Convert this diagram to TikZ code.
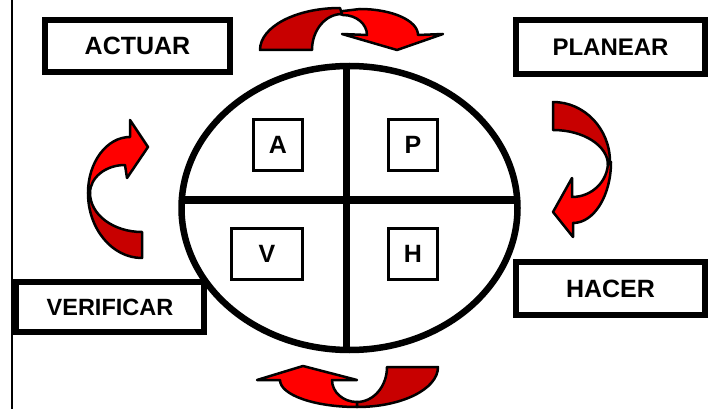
\documentclass[tikz,border=0pt]{standalone}
\usepackage{fontspec}
\setmainfont{Liberation Sans}
\definecolor{darkred}{HTML}{C80000}
\definecolor{litered}{HTML}{FF0000}
\begin{document}
\begin{tikzpicture}[x=1pt,y=-1pt,
  bigbox/.style={draw,line width=6pt,inner sep=0pt,font=\bfseries\fontsize{25}{25}\selectfont},
  smallbox/.style={draw,line width=3pt,inner sep=0pt,minimum height=51pt,font=\bfseries\fontsize{25}{25}\selectfont},
  frontband/.style={fill=litered,draw=black,line width=2.5pt,line join=round},
  backband/.style={fill=darkred,draw=black,line width=2.5pt,line join=round}]
\useasboundingbox (0,0) rectangle (713,409);
% left rule
\draw[line width=2pt] (11.5,0) -- (11.5,409);
% ellipse with cross
\draw[line width=6.5pt] (349.5,208) ellipse [x radius=168, y radius=142];
\draw[line width=7.5pt] (182,200) -- (517,200);
\draw[line width=7pt] (346,66) -- (346,350);
% outer boxes
\node[bigbox,minimum width=185pt,minimum height=52pt] (actuar) at (137.5,46) {ACTUAR};
\node[bigbox,minimum width=189pt,minimum height=54pt,font=\bfseries\fontsize{24}{24}\selectfont] (planear) at (610.5,47) {PLANEAR};
\node[bigbox,minimum width=189pt,minimum height=53pt] (hacer) at (610.5,288.5) {HACER};
\node[bigbox,minimum width=188pt,minimum height=50pt,font=\bfseries\fontsize{23.5}{24}\selectfont] (verificar) at (110,307) {VERIFICAR};
% inner boxes
\node[smallbox,minimum width=49pt] (a) at (278,145) {A};
\node[smallbox,minimum width=49pt] (p) at (413,145) {P};
\node[smallbox,minimum width=71pt] (v) at (267,254) {V};
\node[smallbox,minimum width=49pt] (h) at (413,254) {H};
% top arrow
\draw[frontband] (335,12) -- (343,15) arc[start angle=270,end angle=360,x radius=24,y radius=20]
  -- (342,34) -- (397,50) -- (443,34) -- (418,35)
  arc[start angle=0,end angle=-90,x radius=58,y radius=26] -- cycle;
\draw[backband] (260,50) arc[start angle=180,end angle=270,x radius=80,y radius=42]
  -- (342,14) arc[start angle=270,end angle=180,x radius=30,y radius=36] -- cycle;
% right arrow
\draw[frontband] (608,162) arc[start angle=0,end angle=90,x radius=36,y radius=35]
  -- (572,178) -- (553,212) -- (573,237) -- (573,223)
  arc[start angle=90,end angle=0,x radius=38,y radius=61] -- cycle;
\draw[backband] (553,102) arc[start angle=270,end angle=360,x radius=57,y radius=60]
  -- (608,165) arc[start angle=0,end angle=-90,x radius=55,y radius=35] -- cycle;
% left arrow
\draw[frontband] (88,193) arc[start angle=180,end angle=270,x radius=42,y radius=56]
  -- (130,120) -- (148,147) -- (127,178) -- (125,165)
  arc[start angle=270,end angle=180,x radius=35,y radius=28] -- cycle;
\draw[backband] (142,258) arc[start angle=90,end angle=180,x radius=54,y radius=65]
  -- (90,193) arc[start angle=180,end angle=90,x radius=52,y radius=39] -- cycle;
% bottom arrow
\draw[frontband] (280,380) arc[start angle=180,end angle=90,x radius=77,y radius=27]
  -- (357,402) arc[start angle=90,end angle=180,x radius=25,y radius=22]
  -- (357,380) -- (303,366) -- (257,380) -- cycle;
\draw[backband] (438,367) arc[start angle=0,end angle=90,x radius=81,y radius=40]
  -- (357,402) arc[start angle=90,end angle=0,x radius=30,y radius=35] -- cycle;
\end{tikzpicture}
\end{document}
